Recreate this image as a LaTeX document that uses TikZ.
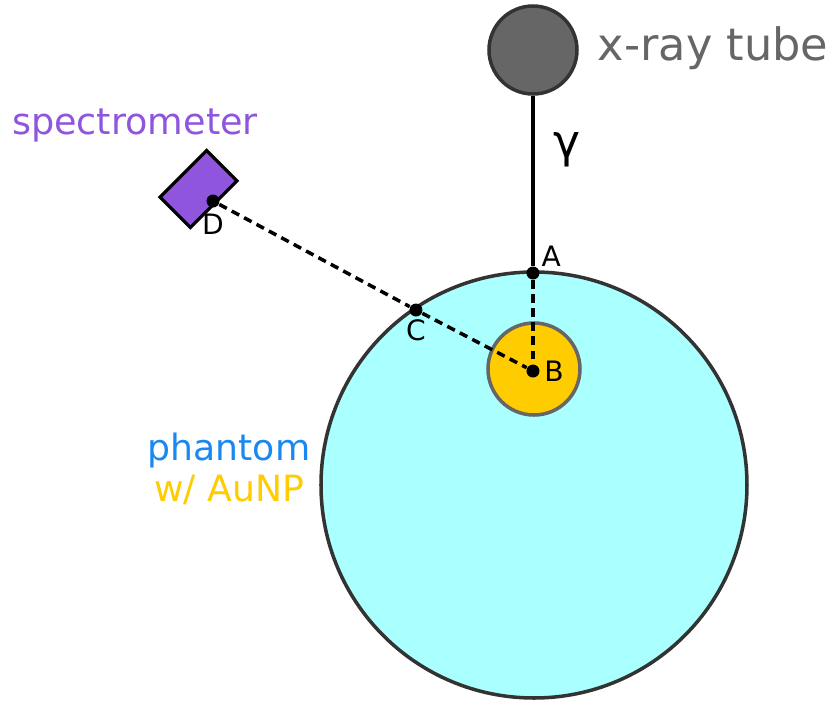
\documentclass[tikz,border=0pt]{standalone}
\usepackage{fontspec}
\setmainfont{DejaVu Sans}
\usepackage{tikz}
\usetikzlibrary{positioning,calc}
\usepackage{xcolor}
\definecolor{phantomfill}{HTML}{AAFFFF}
\definecolor{goldnp}{HTML}{FFCC00}
\definecolor{tubegrey}{HTML}{666666}
\definecolor{specpurple}{HTML}{9055DD}
\definecolor{phantomblue}{HTML}{1A88F0}

\begin{document}
\begin{tikzpicture}[
    body/.style={circle,draw=black!80,line width=1pt,inner sep=0pt},
    pt/.style={circle,fill=black,inner sep=0pt,minimum size=0.13cm},
    lbl/.style={font=\fontsize{8}{9}\selectfont,inner sep=1pt},
    beam/.style={line width=1.1pt},
    path/.style={line width=1pt,dash pattern=on 2.4pt off 1.6pt}]

\useasboundingbox (0,0) rectangle (8.33,7.0);

\node[body,fill=phantomfill,minimum size=4.26cm] (phantom) at (5.34,2.15) {};
\node[body,draw=black!60,fill=goldnp,minimum size=0.92cm] (aunp) at (5.34,3.31) {};
\node[body,fill=tubegrey,minimum size=0.88cm] (tube) at (5.33,6.50) {};
\node[draw=black,line width=0.9pt,fill=specpurple,rotate=45,minimum width=0.66cm,minimum height=0.43cm,inner sep=0pt] (spec) at (1.985,5.11) {};

\node[pt,label={[lbl,anchor=south west,inner sep=0.5pt]30:A}] (A) at (5.33,4.27) {};
\node[pt,label={[lbl,anchor=west]right:B}] (B) at (5.33,3.29) {};
\node[pt,label={[lbl,anchor=north,inner sep=0.5pt]below:C}] (C) at (4.16,3.90) {};
\node[pt,label={[lbl,anchor=north,inner sep=1.5pt]below:D}] (D) at (2.13,4.99) {};

\draw[beam] (tube) -- (A);
\draw[path] (A) -- (B);
\draw[path] (D) -- (C) -- (B);

\node[font=\fontsize{13}{14}\selectfont] (gamma) at (5.67,5.50) {γ};
\node[font=\fontsize{12.7}{14}\selectfont,text=tubegrey] (tubetxt) at (7.13,6.52) {x-ray tube};
\node[font=\fontsize{10.4}{12}\selectfont,text=specpurple] (spectxt) at (1.35,5.75) {spectrometer};
\node[font=\fontsize{10.3}{12}\selectfont,text=phantomblue] (phantxt) at (2.29,2.49) {phantom};
\node[font=\fontsize{10.3}{12}\selectfont,text=goldnp] (nptxt) at (2.29,2.10) {w/ AuNP};

\end{tikzpicture}
\end{document}
